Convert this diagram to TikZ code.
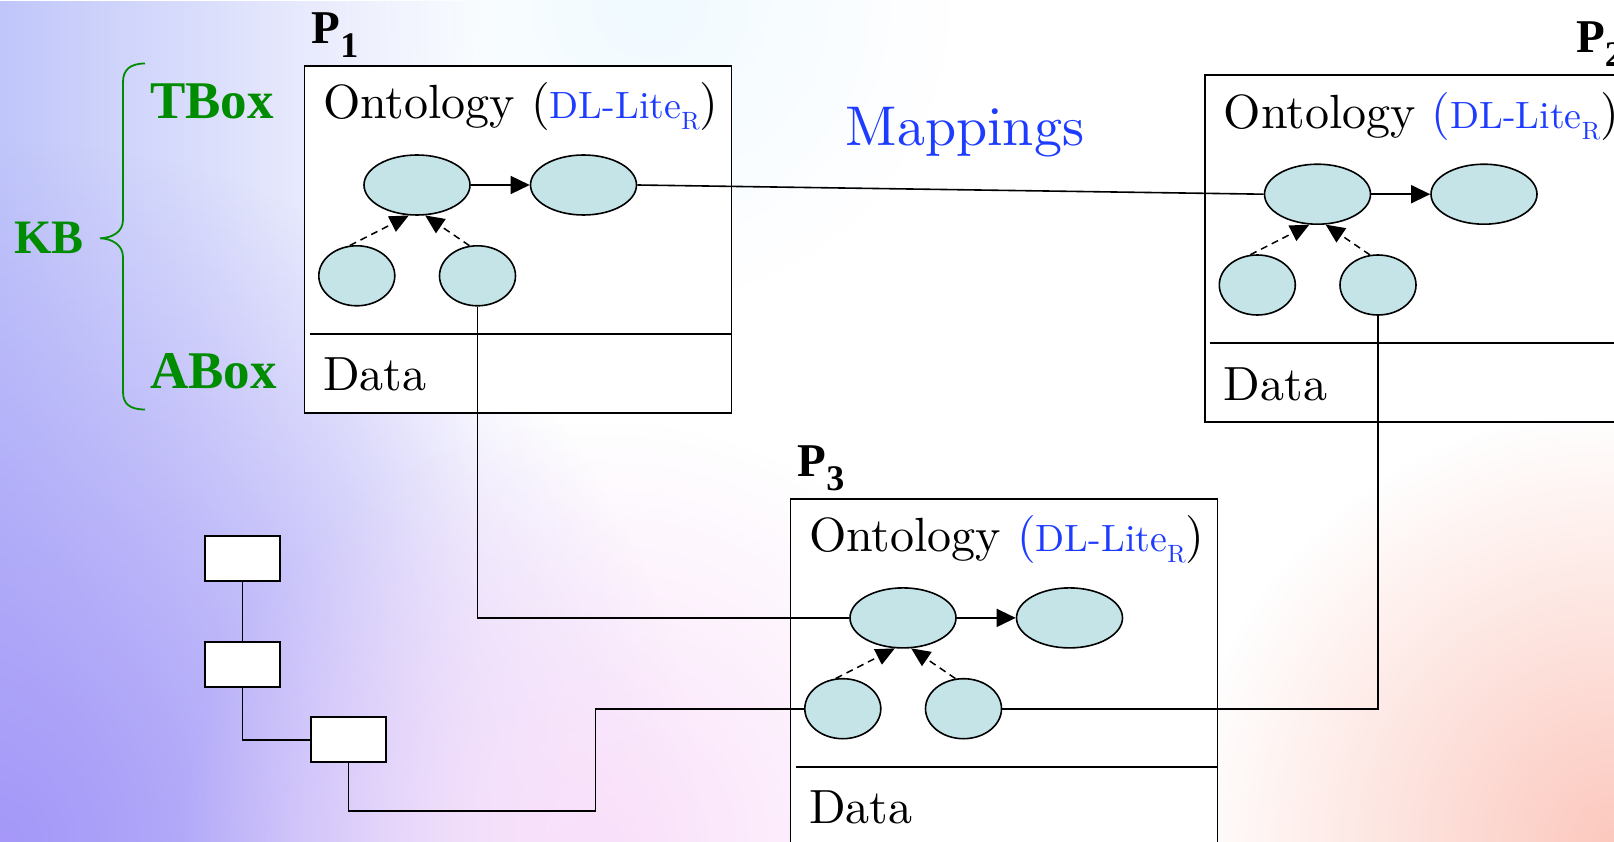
\documentclass[tikz,border=0pt]{standalone}
\usepackage{fontspec}
\setmainfont{lmroman10-regular}[Extension=.otf]
\newfontfamily\tnr{Liberation Serif}
\usetikzlibrary{arrows.meta,shapes.geometric,fadings}
\definecolor{mblue}{RGB}{30,60,255}
\definecolor{kbgreen}{RGB}{0,140,0}
\definecolor{efill}{RGB}{196,228,232}
\definecolor{bgA}{RGB}{192,198,250}
\definecolor{bgB}{RGB}{165,152,248}
\definecolor{bgC}{RGB}{250,224,250}
\definecolor{bgD}{RGB}{252,200,190}
\definecolor{bgE}{RGB}{240,250,255}
\tikzfading[name=fadeLR, left color=transparent!0, right color=transparent!100]
\tikzfading[name=fadeRad, inner color=transparent!0, outer color=transparent!100]
\newcommand\fs[1]{\fontsize{#1}{#1}\selectfont}
\newcommand\dllabel[1]{\textcolor{#1}{(}\textcolor{mblue}{\fs{38}DL-Lite\raisebox{-11pt}{\fs{25}R}})}
\tikzset{
  peerbox/.style={draw, fill=white, line width=1.8pt, minimum width=427pt, minimum height=347pt, anchor=north west, inner sep=0pt},
  sepline/.style={line width=1.8pt},
  bigtext/.style={anchor=base west, inner sep=0pt, font=\fs{48}},
  plabel/.style={anchor=base west, inner sep=0pt, font=\tnr\bfseries\fs{47}},
  greenlab/.style={anchor=base west, inner sep=0pt, text=kbgreen, font=\tnr\bfseries\fs{53}},
  bigell/.style={ellipse, draw, fill=efill, line width=1.6pt, minimum width=106pt, minimum height=60pt, inner sep=0pt},
  smallell/.style={ellipse, draw, fill=efill, line width=1.6pt, minimum width=76pt, minimum height=60pt, inner sep=0pt},
  solidarr/.style={line width=1.5pt, -{Triangle[length=19pt,width=18pt]}},
  dasharr/.style={line width=1.5pt, dash pattern=on 7pt off 5pt, -{Triangle[length=19pt,width=17pt]}},
  conn/.style={line width=1.6pt},
  smallbox/.style={draw, fill=white, line width=1.8pt, minimum width=75pt, minimum height=45pt, inner sep=0pt},
}
\newcommand\peer[6]{%
\begin{scope}[shift={(#2,#3)}]
  \node[peerbox] (#1box) at (0,0) {};
  \draw[sepline] (6,269) -- (427,269);
  \node[bigtext] (#1ont) at (19.5,54.2) {Ontology \dllabel{#5}};
  \node[bigtext] (#1data) at (19.5,326) {Data};
  \node[plabel] (#1lab) at (#6,-21.2) {P\raisebox{-14pt}{\fs{36}#4}};
  \node[bigell] (#1e1) at (113.5,120.2) {};
  \node[bigell] (#1e2) at (280,120.2) {};
  \node[smallell] (#1e3) at (53.3,211) {};
  \node[smallell] (#1e4) at (174,211) {};
  \draw[solidarr] (#1e1.east) -- (#1e2.west);
  \draw[dasharr] (#1e3.103) -- (#1e1.255);
  \draw[dasharr] (#1e4.105) -- (#1e1.285);
\end{scope}}
\begin{document}
\begin{tikzpicture}[x=1pt,y=-1pt]
\useasboundingbox (0,0) rectangle (1614,842);
\clip (0,0) rectangle (1614,842);
% background
\fill[white] (0,0) rectangle (1614,842);
\fill[bgE, path fading=fadeRad] (650,0) circle (300);
\fill[bgA, path fading=fadeLR] (0,0) rectangle (480,842);
\fill[bgB, path fading=fadeRad] (0,842) circle (700);
\fill[bgC, path fading=fadeRad] (600,842) circle (420);
\fill[bgD, path fading=fadeRad] (1614,842) circle (430);
% KB labels
\draw[kbgreen, line width=1.8pt] (145,63.5) .. controls (130,63.5) and (123,70) .. (123,82) -- (123,220) .. controls (123,232) and (112,238) .. (100,238.3) .. controls (112,238.6) and (123,245) .. (123,257) -- (123,392) .. controls (123,404) and (130,409.5) .. (145,409.5);
\node[greenlab] (tbox) at (150,118.3) {TBox};
\node[greenlab] (abox) at (150,388.3) {ABox};
\node[greenlab, font=\tnr\bfseries\fs{48}] (kb) at (14,253.3) {KB};
\node[anchor=base west, inner sep=0pt, font=\fs{56}, text=mblue] (map) at (845.5,146) {Mappings};
% peers
\peer{p1}{303.5}{64.8}{1}{black}{8}
\peer{p2}{1204}{74}{2}{mblue}{372}
\peer{p3}{789.5}{497.7}{3}{mblue}{8}
% small boxes
\node[smallbox] (b1) at (242.6,558.8) {};
\node[smallbox] (b2) at (242.6,664.5) {};
\node[smallbox] (b3) at (348.5,739.7) {};
\coordinate (c1) at (595.3,810.7);
% connectors
\draw[conn] (p1e2.east) -- (p2e1.west);
\draw[conn] (p1e4.south) |- (p3e1.west);
\draw[conn] (p2e4.south) |- (p3e4.east);
\draw[conn] (b1.south) -- (b2.north);
\draw[conn] (b2.south) |- (b3.west);
\draw[conn] (b3.south) |- (c1) |- (p3e3.west);
\end{tikzpicture}
\end{document}
